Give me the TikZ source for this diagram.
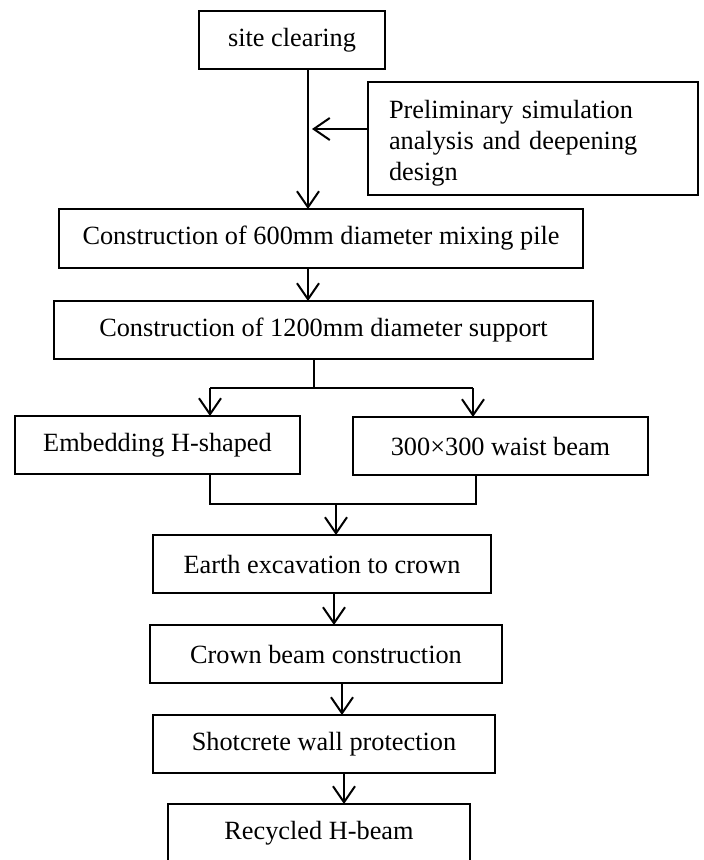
\documentclass[tikz,border=0pt]{standalone}
\usepackage{fontspec}
\setmainfont{Liberation Serif}
\usetikzlibrary{arrows.meta}
\begin{document}
\begin{tikzpicture}[x=1pt,y=-1pt,
  box/.style={draw, line width=2pt, rectangle, inner sep=0pt, outer sep=0pt,
    font=\fontsize{26.3}{31}\selectfont, align=center},
  conn/.style={line width=2pt},
  arr/.style={line width=2pt, -{Straight Barb[length=16pt,width=22pt,line width=2pt]}}]
\useasboundingbox (0,0) rectangle (704,860);
% boxes
\node[box, minimum width=186pt, minimum height=58pt] (b1) at (292,40) {site clearing};
\node[box, minimum width=330pt, minimum height=113pt, align=left, text width=288pt] (pre) at (533,138.5)
  {\rule{0pt}{28pt}Preliminary simulation\\analysis and deepening\\design};
\node[box, minimum width=524pt, minimum height=59pt] (b3) at (321,238.5) {Construction of 600mm diameter mixing pile};
\node[box, minimum width=539pt, minimum height=58pt] (b4) at (323.5,330) {Construction of 1200mm diameter support};
\node[box, minimum width=285pt, minimum height=58pt] (b5) at (157.5,445) {Embedding H-shaped};
\node[box, minimum width=295pt, minimum height=58pt] (b6) at (500.5,446) {300×300 waist beam};
\node[box, minimum width=338pt, minimum height=58pt] (b7) at (322,564) {Earth excavation to crown};
\node[box, minimum width=352pt, minimum height=58pt] (b8) at (326,654) {Crown beam construction};
\node[box, minimum width=342pt, minimum height=58pt] (b9) at (324,744) {Shotcrete wall protection};
\node[box, minimum width=302pt, minimum height=58pt] (b10) at (319,833) {Recycled H-beam};
% helper coordinates
\coordinate (x1) at (308,0);
\coordinate (in1) at (312,129);
\coordinate (s0) at (314,388);
\coordinate (sl) at (210,388);
\coordinate (sr) at (473,388);
\coordinate (ml) at (210,504);
\coordinate (mr) at (476,504);
\coordinate (mm) at (336,504);
\coordinate (x7) at (334,0);
\coordinate (x8) at (342,0);
\coordinate (x9) at (344,0);
% connectors
\draw[arr] (b1.south -| x1) -- (b3.north -| x1);
\draw[arr] (pre.west |- in1) -- (in1);
\draw[arr] (b3.south -| x1) -- (b4.north -| x1);
\draw[conn] (b4.south -| s0) -- (s0);
\draw[conn] (sl) -- (sr);
\draw[arr] (sl) -- (b5.north -| sl);
\draw[arr] (sr) -- (b6.north -| sr);
\draw[conn] (b5.south -| ml) -- (ml) -- (mr) -- (b6.south -| mr);
\draw[arr] (mm) -- (b7.north -| mm);
\draw[arr] (b7.south -| x7) -- (b8.north -| x7);
\draw[arr] (b8.south -| x8) -- (b9.north -| x8);
\draw[arr] (b9.south -| x9) -- (b10.north -| x9);
\end{tikzpicture}
\end{document}
